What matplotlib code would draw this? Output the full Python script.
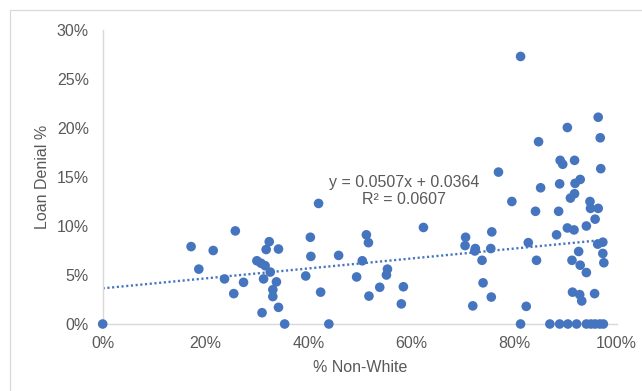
import matplotlib
matplotlib.use("Agg")
import matplotlib.pyplot as plt
from matplotlib.patches import Rectangle
from matplotlib.ticker import FuncFormatter

# Share of non-white residents (%) per area
non_white_pct = [
    0.0, 17.2, 18.7, 21.5, 23.7, 25.8, 25.5, 27.4, 30.0, 30.8,
    31.6, 31.8, 32.4, 32.6, 34.2, 31.3, 33.8, 33.1, 33.1, 34.2,
    31.0, 35.4, 39.5, 40.4, 40.5, 42.0, 42.4, 44.0, 45.9, 49.4,
    50.5, 51.3, 51.7, 51.8, 53.9, 55.2, 55.4, 58.1, 58.5, 62.4,
    70.6, 70.5, 72.5, 72.4, 72.0, 73.8, 74.0, 75.5, 75.7, 75.6,
    77.0, 79.6, 81.3, 81.3, 82.4, 82.8, 84.2, 84.4, 84.8, 85.2,
    87.0, 88.3, 88.7, 88.9, 89.0, 89.5, 88.9, 90.4, 90.5, 90.4,
    91.0, 91.3, 91.4, 91.7, 91.8, 91.8, 91.9, 92.2, 92.6, 92.8,
    92.9, 92.9, 93.2, 94.1, 94.1, 94.1, 94.8, 94.9, 95.0, 95.7,
    95.8, 95.8, 96.4, 96.4, 96.3, 96.8, 96.9, 96.7, 97.3, 97.3,
    97.5, 97.4,
]

# Loan denial rate (%) per area
denial_pct = [
    0.0, 7.9, 5.6, 7.5, 4.6, 9.5, 3.1, 4.25, 6.45, 6.2,
    5.95, 7.6, 8.4, 5.3, 7.65, 4.6, 4.3, 3.5, 2.8, 1.7,
    1.15, 0.0, 4.9, 8.85, 6.9, 12.3, 3.25, 0.0, 7.0, 4.8,
    6.45, 9.1, 8.3, 2.85, 3.75, 5.0, 5.6, 2.05, 3.8, 9.85,
    8.85, 8.0, 7.7, 7.45, 1.85, 6.5, 4.2, 7.7, 9.4, 2.75,
    15.5, 12.5, 27.3, 0.0, 1.8, 8.3, 11.5, 6.5, 18.6, 13.9,
    0.0, 9.1, 11.5, 14.3, 16.7, 16.3, 0.0, 20.05, 0.0, 9.8,
    12.85, 6.5, 3.25, 9.6, 13.3, 16.7, 14.35, 0.0, 7.4, 3.0,
    14.75, 6.0, 2.35, 10.0, 5.25, 0.0, 12.5, 11.8, 0.0, 3.1,
    10.7, 0.0, 11.8, 21.1, 8.15, 19.0, 15.85, 0.0, 8.35, 7.2,
    6.25, 0.0,
]

# Linear trendline as stated on the chart
slope = 0.0507
intercept = 0.0364
r_squared = 0.0607

x_ticks = [0, 0.2, 0.4, 0.6, 0.8, 1.0]
y_ticks = [0, 0.05, 0.10, 0.15, 0.20, 0.25, 0.30]

plt.rcParams["font.family"] = ["Liberation Sans", "DejaVu Sans"]
text_color = "#595959"
axis_color = "#D9D9D9"
dot_color = "#4675BF"
fs = 11.5

W, H = 642, 391
fig = plt.figure(figsize=(W / 100, H / 100), dpi=100)

# Chart-area border (extends past the right and bottom edges)
fig.patches.append(Rectangle((10 / W, -0.1), 1.2, 1 - 9.5 / H + 0.1,
                             transform=fig.transFigure, fill=False,
                             edgecolor="#D9D9D9", linewidth=0.9))

left, right = 102.7 / W, 616.7 / W
bottom, top = (H - 324) / H, (H - 30) / H
ax = fig.add_axes([left, bottom, right - left, top - bottom])

xs = [v / 100 for v in non_white_pct]
ys = [v / 100 for v in denial_pct]

ax.scatter(xs, ys, s=48, color=dot_color, edgecolors="none", zorder=3,
           clip_on=False)

x0, x1 = 0.0, max(xs)
ax.plot([x0, x1], [slope * x0 + intercept, slope * x1 + intercept],
        color=dot_color, linewidth=1.7, linestyle=(0, (0.9, 1.1)),
        dash_capstyle="butt", zorder=2)

ax.set_xlim(0, 1.0)
ax.set_ylim(0, 0.30)
ax.set_xticks(x_ticks)
ax.set_yticks(y_ticks)
pct = FuncFormatter(lambda v, p: f"{v * 100:.0f}%")
ax.xaxis.set_major_formatter(pct)
ax.yaxis.set_major_formatter(pct)
ax.tick_params(axis="both", length=0, labelsize=fs, labelcolor=text_color)
ax.tick_params(axis="x", pad=8.5)
ax.tick_params(axis="y", pad=10)

for side in ("top", "right"):
    ax.spines[side].set_visible(False)
for side in ("left", "bottom"):
    ax.spines[side].set_color(axis_color)
    ax.spines[side].set_linewidth(1.0)

fig.text(359.7 / W, 1 - 368 / H, "% Non-White", ha="center", va="center",
         fontsize=fs, color=text_color)
fig.text(43 / W, 1 - 177 / H, "Loan Denial %", ha="center", va="center",
         rotation=90, fontsize=fs, color=text_color)

fig.text(404 / W, 1 - 182 / H, f"y = {slope}x + {intercept}", ha="center",
         va="center", fontsize=fs, color=text_color)
fig.text(404 / W, 1 - 200 / H, f"R² = {r_squared}", ha="center",
         va="center", fontsize=fs, color=text_color)

fig.savefig("out.png", dpi=100)
